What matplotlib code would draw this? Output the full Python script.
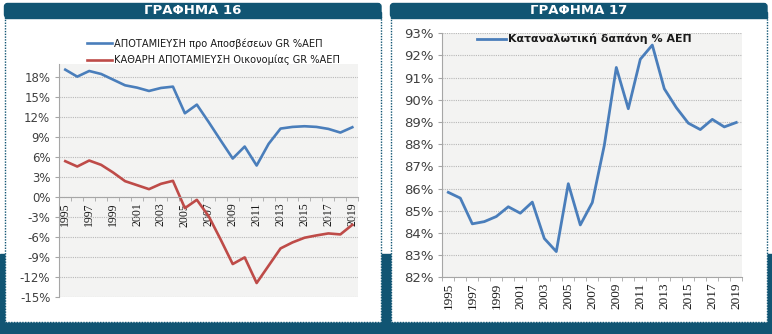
import matplotlib.pyplot as plt
from matplotlib.patches import Rectangle, FancyBboxPatch
from matplotlib.ticker import FuncFormatter, MultipleLocator

years = list(range(1995, 2020))
gross_saving = [19.15, 18.1, 18.95, 18.5, 17.65, 16.8, 16.45, 15.95, 16.4, 16.6,
                12.6, 13.9, 11.25, 8.5, 5.8, 7.6, 4.75, 8.0, 10.3, 10.55,
                10.65, 10.55, 10.25, 9.7, 10.5]
net_saving = [5.4, 4.6, 5.5, 4.85, 3.7, 2.4, 1.8, 1.2, 2.0, 2.45,
              -1.65, -0.4, -2.9, -6.4, -10.05, -9.05, -12.9, -10.3, -7.7, -6.8,
              -6.1, -5.75, -5.45, -5.6, -4.15]
consumption = [85.83, 85.57, 84.41, 84.51, 84.74, 85.18, 84.89, 85.39, 83.75, 83.16,
               86.22, 84.36, 85.37, 87.95, 91.46, 89.6, 91.83, 92.47, 90.5, 89.65,
               88.95, 88.66, 89.12, 88.78, 88.98]
label_gross = "ΑΠΟΤΑΜΙΕΥΣΗ προ Αποσβέσεων GR %ΑΕΠ"
label_net = "ΚΑΘΑΡΗ ΑΠΟΤΑΜΙΕΥΣΗ Οικονομίας GR %ΑΕΠ"
label_cons = "Καταναλωτική δαπάνη % ΑΕΠ"
titles = ["ΓΡΑΦΗΜΑ 16", "ΓΡΑΦΗΜΑ 17"]

W, H = 772, 334
TEAL = "#115573"
BLUE = "#4a7ebb"
RED = "#be4b48"
TXT = "#404040"

fig = plt.figure(figsize=(W / 100, H / 100), dpi=100)

# background layer in pixel coordinates
bg = fig.add_axes([0, 0, 1, 1])
bg.set_xlim(0, W)
bg.set_ylim(H, 0)
bg.axis("off")
bg.add_patch(Rectangle((0, 254), W, H - 254, color=TEAL, zorder=0))
for (x0, x1), title in zip([(4.5, 381), (390.5, 767)], titles):
    bg.add_patch(Rectangle((x0, 17), x1 - x0, 304.5, facecolor="white",
                           edgecolor=TEAL, linestyle=(0, (1, 1)), lw=1, zorder=1))
    bg.add_patch(FancyBboxPatch((x0 + 3, 6.5), x1 - x0 - 6, 8,
                                boxstyle="round,pad=3", color=TEAL, zorder=2))
    bg.add_patch(Rectangle((x0, 12), x1 - x0, 5.5, color=TEAL, zorder=2))
    bg.text((x0 + x1) / 2, 10.8, title, color="white", fontsize=9.5,
            fontweight="bold", ha="center", va="center", zorder=3)


def px_axes(x0, x1, y0, y1):
    return fig.add_axes([x0 / W, (H - y1) / H, (x1 - x0) / W, (y1 - y0) / H])


def style(ax, xsize):
    ax.set_facecolor("#f3f3f2")
    for s in ["top", "right"]:
        ax.spines[s].set_visible(False)
    ax.spines["left"].set_color("#a6a6a6")
    ax.spines["bottom"].set_color("#a6a6a6")
    ax.yaxis.grid(True, color="#b8b8b8", linestyle=(0, (1, 1)), lw=0.8)
    ax.set_axisbelow(True)
    idx = range(len(years))
    ax.set_xlim(-0.5, len(years) - 0.5)
    ax.set_xticks(list(idx)[::2])
    ax.set_xticklabels([str(y) for y in years[::2]],
                       fontfamily="Liberation Serif", fontsize=xsize, color="#1a1a1a")
    ax.set_xticks([i + 0.5 for i in range(-1, len(years))], minor=True)
    ax.tick_params(axis="x", which="major", length=0, pad=4, labelrotation=90)
    ax.tick_params(axis="x", which="minor", length=3, color="#a6a6a6", direction="out")
    ax.tick_params(axis="y", length=3, color="#a6a6a6", labelsize=8.5, labelcolor=TXT)
    ax.yaxis.set_major_formatter(FuncFormatter(lambda v, p: f"{v:.0f}%"))


x = range(len(years))

# chart 16
ax1 = px_axes(59.3, 358.3, 64, 297)
ax1.spines["bottom"].set_position(("data", 0))
style(ax1, 8.5)
ax1.plot(x, gross_saving, color=BLUE, lw=1.9, label=label_gross)
ax1.plot(x, net_saving, color=RED, lw=1.9, label=label_net)
ax1.set_ylim(-15, 20)
ax1.set_yticks(range(-15, 19, 3))
ax1.legend(loc="center left", bbox_to_anchor=(82 / W, 1 - 51.5 / H),
           bbox_transform=fig.transFigure, frameon=False, fontsize=7.1,
           handlelength=2.5, handletextpad=0.2, labelspacing=0.6,
           labelcolor="#1a1a1a", borderpad=0)

# chart 17
ax2 = px_axes(442.3, 742.3, 33.3, 277.3)
style(ax2, 9.5)
ax2.plot(x, consumption, color=BLUE, lw=2.0, label=label_cons)
ax2.set_ylim(82, 93)
ax2.yaxis.set_major_locator(MultipleLocator(1))
ax2.tick_params(axis="y", labelsize=9.5)
leg = ax2.legend(loc="center left", bbox_to_anchor=(472 / W, 1 - 39 / H),
                 bbox_transform=fig.transFigure, frameon=False, fontsize=7.9,
                 handlelength=2.6, handletextpad=0.2, borderpad=0)
for t in leg.get_texts():
    t.set_fontweight("bold")
    t.set_color("#1a1a1a")

fig.savefig("out.png", dpi=100)
